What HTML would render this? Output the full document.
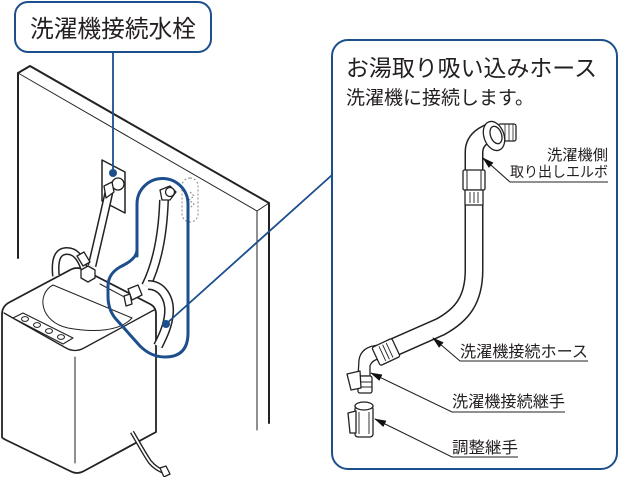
<!DOCTYPE html>
<html><head><meta charset="utf-8">
<style>
html,body{margin:0;padding:0;background:#fff;}
svg{display:block;}
text{font-family:"Liberation Sans","Noto Sans CJK JP",sans-serif;fill:#231f20;}
</style></head><body>
<svg width="625" height="477" viewBox="0 0 625 477" xmlns="http://www.w3.org/2000/svg">
<defs>
<marker id="ar" markerWidth="12" markerHeight="8" refX="11" refY="4" orient="auto" markerUnits="userSpaceOnUse">
<path d="M0,0.5 L12,4 L0,7.5 Z" fill="#111"/>
</marker>
</defs>

<!-- wall -->
<g fill="none" stroke="#222" stroke-linejoin="round" stroke-linecap="round">
<path d="M18,258 L18,73 L30,66 L269,203 L269,423" stroke-width="2"/>
<path d="M18,73 L257,211 L269,203 M257,211 L257,430" stroke-width="1"/>
</g>

<!-- faucet plate -->
<g stroke="#222" stroke-linejoin="round">
<polygon points="102,160 125,172 125,213 102,201" fill="#fff" stroke-width="1.5"/>
<circle cx="118" cy="184" r="6" fill="#fff" stroke-width="1.3"/>
</g>

<!-- dashed outlet -->
<rect x="182" y="178" width="16" height="44" rx="8" fill="none" stroke="#888" stroke-width="1" stroke-dasharray="2,2"/>
<path d="M190,192 l4,4 l-5,4 l5,4 l-4,4" fill="none" stroke="#888" stroke-width="1" stroke-dasharray="2,1.5"/>

<!-- washer -->
<g stroke="#222" stroke-linejoin="round" stroke-linecap="round">
<path d="M2,437 L2,314 Q2,306 10,302 L70,270 Q77,266 84,270 L150,304 Q156,307 156,314 L156,432 L84,471 Q77,475 70,471 L6,440 Q2,438 2,437 Z" fill="#fff" stroke-width="1.8"/>
<path d="M4,313 L66,348 Q75,353 84,348 L154,310" fill="none" stroke-width="1.3"/>
<path d="M75,357 L75,463" fill="none" stroke-width="1"/>
<polygon points="13,318 23,313 73,338 63,344" fill="#fff" stroke-width="1.1"/>
<ellipse cx="25" cy="319" rx="3.5" ry="2.4" fill="#fff" stroke-width="1"/>
<ellipse cx="37" cy="325" rx="3.5" ry="2.4" fill="#fff" stroke-width="1"/>
<ellipse cx="49" cy="331" rx="3.5" ry="2.4" fill="#fff" stroke-width="1"/>
<ellipse cx="61" cy="337" rx="3.5" ry="2.4" fill="#fff" stroke-width="1"/>
<path d="M53,285 C36,294 40,322 68,328 C95,333 120,331 132,318" fill="none" stroke-width="1"/>
<path d="M53,285 L132,318" fill="none" stroke-width="1"/>
<path d="M100,284 L130,300" fill="none" stroke-width="1"/>
</g>

<!-- hoses left -->
<g fill="none" stroke-linecap="butt">
<path d="M109,192 C104,215 98,240 92,266" stroke="#222" stroke-width="9"/>
<path d="M109,192 C104,215 98,240 92,266" stroke="#fff" stroke-width="6"/>
<path d="M56,276 C54,257 59,251 67,251 C75,251 80,257 84,268" stroke="#222" stroke-width="8"/>
<path d="M56,276 C54,257 59,251 67,251 C75,251 80,257 84,268" stroke="#fff" stroke-width="5"/>
<path d="M164,200 C163,230 158,262 146,286" stroke="#222" stroke-width="10"/>
<path d="M164,200 C163,230 158,262 146,286" stroke="#fff" stroke-width="7"/>
<path d="M148,285 C162,285 170,298 169,313 C168,326 163,336 158,346" stroke="#222" stroke-width="10"/>
<path d="M148,285 C162,285 170,298 169,313 C168,326 163,336 158,346" stroke="#fff" stroke-width="7"/>
<path d="M132,432 C138,442 145,455 150,462 C155,468 160,470 164,472" stroke="#222" stroke-width="4.5"/>
<path d="M132,432 C138,442 145,455 150,462 C155,468 160,470 164,472" stroke="#fff" stroke-width="1.8"/>
</g>
<g stroke="#222" stroke-width="1.3" fill="#fff" stroke-linejoin="round">
<polygon points="104,186 112,182 114,192 106,198"/>
<polygon points="81,270 88,266 95,270 95,278 88,282 81,278"/>
<polygon points="77,256 84,252 90,262 83,266"/>
<polygon points="160,190 170,186 176,192 170,200 162,200"/>
<circle cx="170" cy="192" r="4.5"/>
<polygon points="128,289 138,285 142,295 132,300"/>
<polygon points="124,296 130,294 132,304 126,306"/>
<polygon points="160,468 166,466 170,474 164,477"/>
</g>
<line x1="97" y1="285" x2="156" y2="312" stroke="#222" stroke-width="0"/>

<!-- blue highlight -->
<g fill="none" stroke="#1c4f8c" stroke-linejoin="round" stroke-linecap="round">
<path d="M137,256 L137,204 A25.5,25.5 0 0 1 188,204 L188,333 Q188,357 165,357 Q151,357 140,346 L115,318 Q108,309 108,296 L108,286 Q108,274 120,267 Q137,259 137,250" stroke-width="3"/>
<path d="M166,324 L332,175" stroke-width="1.8"/>
<path d="M113,52 L113,173" stroke-width="1.8"/>
</g>
<circle cx="166" cy="324" r="4" fill="#1c4f8c"/>
<circle cx="113" cy="173" r="4" fill="#1c4f8c"/>

<!-- label box -->
<rect x="15" y="2" width="196" height="50" rx="13" fill="#fff" stroke="#1c4f8c" stroke-width="2"/>
<text x="30" y="37" font-size="24" textLength="166" lengthAdjust="spacingAndGlyphs">洗濯機接続水栓</text>

<!-- right panel -->
<rect x="332" y="40" width="285" height="429" rx="16" fill="#fff" stroke="#1c4f8c" stroke-width="2"/>
<text x="346" y="76" font-size="23" textLength="251" lengthAdjust="spacingAndGlyphs">お湯取り吸い込みホース</text>
<text x="346" y="104" font-size="19" textLength="188" lengthAdjust="spacingAndGlyphs">洗濯機に接続します。</text>

<!-- right hose -->
<g fill="none" stroke-linecap="butt">
<path d="M474,168 L474,270 C474,300 462,315 440,327 L390,349" stroke="#222" stroke-width="19"/>
<path d="M474,168 L474,270 C474,300 462,315 440,327 L390,349" stroke="#fff" stroke-width="16"/>
<path d="M474,172 L474,152 Q474,142 483,136 L492,131" stroke="#222" stroke-width="19"/>
<path d="M474,172 L474,152 Q474,142 483,136 L492,131" stroke="#fff" stroke-width="16"/>
</g>
<g stroke="#222" stroke-width="1.3" fill="#fff" stroke-linejoin="round">
<rect x="498" y="124" width="18" height="17" rx="2"/>
<path d="M505,124 L505,141 M509,124 L509,141 M513,124 L513,141" fill="none" stroke-width="0.8"/>
<ellipse cx="494" cy="136" rx="10" ry="15" transform="rotate(-20 494 136)"/>
<ellipse cx="496" cy="135" rx="5.5" ry="9" transform="rotate(-20 496 135)"/>
<rect x="463" y="170" width="22" height="20" rx="1.5"/>
<path d="M467,170 L467,190 M481,170 L481,190" fill="none" stroke-width="1"/>
<rect x="465" y="190" width="18" height="15"/>
<path d="M470,192 L470,203 M474,192 L474,203 M478,192 L478,203" fill="none" stroke-width="0.9"/>
<!-- lower elbow -->
<path d="M380,345 Q361,346 359,360 L358,376 L370,376 L370,366 Q372,359 384,358 Z"/>
<g transform="translate(386,352) rotate(-25)">
<rect x="-11" y="-10" width="22" height="20" rx="2"/>
<path d="M-4,-8 L-4,8 M0,-8 L0,8 M4,-8 L4,8" fill="none" stroke-width="0.9"/>
</g>
<rect x="358" y="376" width="14" height="17" rx="2"/>
<path d="M358,382 L372,382 M358,387 L372,387" fill="none" stroke-width="0.9"/>
<polygon points="347,374 360,371 361,388 351,390"/>
<!-- adjuster -->
<rect x="355" y="406" width="18" height="31" rx="3"/>
<ellipse cx="364" cy="406" rx="9" ry="4"/>
<path d="M359,412 L359,434 M369,412 L369,434" fill="none" stroke-width="0.9"/>
<polygon points="348,413 356,411 356,433 350,433"/>
</g>

<!-- labels -->
<g fill="none" stroke="#222" stroke-width="1.1">
<path d="M608,182 L510,182 L483,158" marker-end="url(#ar)"/>
<path d="M588,361 L460,361 L433,338" marker-end="url(#ar)"/>
<path d="M565,412 L452,412 L371,373" marker-end="url(#ar)"/>
<path d="M518,457 L452,457 L375,419" marker-end="url(#ar)"/>
</g>
<text x="547" y="160" font-size="15" textLength="61" lengthAdjust="spacingAndGlyphs">洗濯機側</text>
<text x="510" y="177" font-size="14.5" textLength="98" lengthAdjust="spacingAndGlyphs">取り出しエルボ</text>
<text x="460" y="357" font-size="16" textLength="128" lengthAdjust="spacingAndGlyphs">洗濯機接続ホース</text>
<text x="452" y="407" font-size="16" textLength="113" lengthAdjust="spacingAndGlyphs">洗濯機接続継手</text>
<text x="452" y="453" font-size="16" textLength="66" lengthAdjust="spacingAndGlyphs">調整継手</text>
</svg>
</body></html>
